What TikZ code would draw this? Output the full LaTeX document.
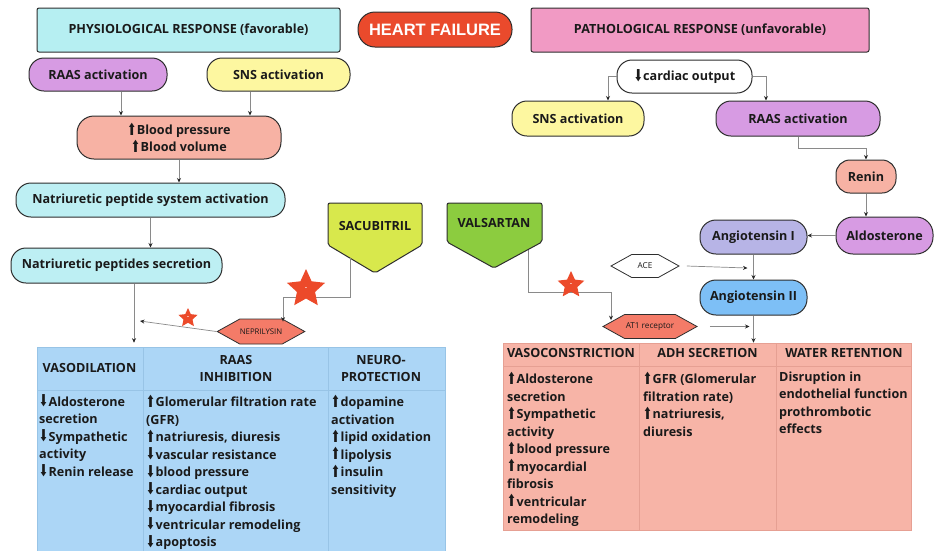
\documentclass[tikz,border=0pt]{standalone}
\usepackage{fontspec}
\setmainfont{Open Sans}
\newfontfamily\hffont{Liberation Sans}
\newfontfamily\arrowfont{DejaVu Sans}
\usetikzlibrary{shapes.geometric,shapes.symbols,arrows.meta}
\newcommand\UpA{{\arrowfont\bfseries\raisebox{-0.5pt}{\scalebox{0.85}[1.3]{⬆}}}\hspace{0.5pt}}
\newcommand\DnA{{\arrowfont\bfseries\raisebox{-0.5pt}{\scalebox{0.85}[1.3]{⬇}}}\hspace{0.5pt}}
\definecolor{bord}{HTML}{2E2E2E}
\definecolor{txt}{HTML}{1A1A1A}
\definecolor{cyanbox}{HTML}{B6EFF2}
\definecolor{cyanpill}{HTML}{BDEFF3}
\definecolor{pinkbox}{HTML}{F19AC4}
\definecolor{hfred}{HTML}{EA4A2C}
\definecolor{purp}{HTML}{D79BE3}
\definecolor{yell}{HTML}{FDF7A0}
\definecolor{salm}{HTML}{F7B2A4}
\definecolor{lav}{HTML}{B7B4E6}
\definecolor{blu}{HTML}{7DBFF6}
\definecolor{tblblue}{HTML}{ACD6F6}
\definecolor{tblblueline}{HTML}{98C4E6}
\definecolor{tblred}{HTML}{F7B4A7}
\definecolor{tblredline}{HTML}{E6A093}
\definecolor{sacc}{HTML}{D8E84C}
\definecolor{valc}{HTML}{8CCC3F}
\definecolor{hexred}{HTML}{F47B68}
\definecolor{starred}{HTML}{EC4A2A}
\definecolor{lgray}{HTML}{8A8A8A}
\begin{document}
\begin{tikzpicture}[x=1pt,y=-1pt,
  box/.style={draw=bord, line width=1pt, align=center, inner sep=2pt, text=txt,
    font=\fontsize{12.6}{17}\selectfont\bfseries},
  pill/.style={box, rounded corners=15pt},
  arr/.style={draw=lgray, line width=0.7pt, -{Stealth[length=4.5pt,width=4pt,color=black!85]}},
  hexa/.style={signal, signal to=east and west, signal pointer angle=58, draw=bord,
    line width=0.8pt, inner sep=0pt, text=txt, font=\fontsize{8.2}{9}\selectfont},
  redstar/.style={star, star points=5, star point ratio=2.1, fill=starred, inner sep=0pt,
    text=white, font=\fontsize{6}{6}\selectfont\bfseries},
  hd/.style={align=center, text=txt, font=\fontsize{12.6}{17}\selectfont\bfseries, inner sep=0pt},
  body/.style={align=left, anchor=north west, text=txt, inner sep=0pt,
    font=\fontsize{12.6}{17.5}\selectfont\bfseries}
]
\useasboundingbox (0,0) rectangle (934,550);
\fill[white] (0,0) rectangle (934,550);

% headers
\node[box, fill=cyanbox, rounded corners=2pt, minimum width=303pt, minimum height=44pt] (phys) at (188.5,30) {PHYSIOLOGICAL RESPONSE (favorable)};
\node[box, fill=hfred, rounded corners=17pt, minimum width=154pt, minimum height=35pt, text=white, font=\fontsize{16.5}{18}\selectfont\hffont\bfseries] (hf) at (435,29.5) {HEART FAILURE};
\node[box, fill=pinkbox, rounded corners=2pt, minimum width=338pt, minimum height=44pt] (patho) at (700,30) {PATHOLOGICAL RESPONSE (unfavorable)};

% left flow
\node[pill, fill=purp, minimum width=138pt, minimum height=33pt] (raasL) at (98,74.5) {RAAS activation};
\node[pill, fill=yell, minimum width=143pt, minimum height=33pt] (snsL) at (278.5,74.5) {SNS activation};
\node[pill, fill=salm, rounded corners=17pt, minimum width=204pt, minimum height=43pt] (bp) at (179,137.5) {\UpA Blood pressure\\\UpA Blood volume};
\node[pill, fill=cyanpill, minimum width=269pt, minimum height=34pt] (npsa) at (150.5,200) {Natriuretic peptide system activation};
\node[pill, fill=cyanpill, minimum width=211pt, minimum height=35pt] (nps) at (116.5,265.5) {Natriuretic peptides secretion};

% right flow
\node[pill, fill=white, minimum width=135pt, minimum height=33pt] (co) at (684.5,76.5) {\DnA cardiac output};
\node[pill, fill=yell, minimum width=132pt, minimum height=35pt] (snsR) at (578,118.5) {SNS activation};
\node[pill, fill=purp, minimum width=164pt, minimum height=35pt] (raasR) at (798,118.5) {RAAS activation};
\node[pill, fill=salm, rounded corners=14pt, minimum width=60pt, minimum height=33pt] (renin) at (866,176.5) {Renin};
\node[pill, fill=purp, rounded corners=17pt, minimum width=97pt, minimum height=37pt] (aldo) at (884.5,235.5) {Aldosterone};
\node[pill, fill=lav, rounded corners=16pt, minimum width=107pt, minimum height=34pt] (ang1) at (753.5,237) {Angiotensin I};
\node[pill, fill=blu, rounded corners=16pt, minimum width=107pt, minimum height=35pt] (ang2) at (753.5,297.5) {Angiotensin II};

% hexagons
\node[hexa, fill=hexred, minimum width=86pt, minimum height=25pt, font=\fontsize{7.8}{9}\selectfont] (nep) at (261,331.5) {NEPRILYSIN};
\node[hexa, fill=white, minimum width=68pt, minimum height=23pt] (ace) at (645,266) {ACE};
\node[hexa, fill=hexred, minimum width=94pt, minimum height=24pt] (at1) at (650,326.5) {AT1 receptor};

% drug shapes
\draw[draw=bord, line width=1pt, fill=sacc, rounded corners=2pt] (328,203) -- (422,203) -- (422,245) -- (375,273) -- (328,245) -- cycle;
\node[hd] (sac) at (375,226) {SACUBITRIL};
\draw[draw=bord, line width=1pt, fill=valc, rounded corners=2pt] (447,203) -- (542,203) -- (542,242) -- (494,268) -- (447,242) -- cycle;
\node[hd] (val) at (494,223) {VALSARTAN};
\coordinate (sacS) at (350,258);
\coordinate (valS) at (528,250);
\coordinate (nepEnd) at (140,321);

% tables
\node[draw=tblblueline, fill=tblblue, line width=0.6pt, minimum width=408pt, minimum height=206pt, inner sep=0pt] (tblL) at (241,450) {};
\draw[tblblueline, line width=0.6pt] (143,347) -- (143,553) (328,347) -- (328,553) (37,390) -- (445,390);
\node[draw=tblredline, fill=tblred, line width=0.6pt, minimum width=408pt, minimum height=187pt, inner sep=0pt] (tblR) at (707,436.5) {};
\draw[tblredline, line width=0.6pt] (639,343) -- (639,530) (776,343) -- (776,530) (503,366) -- (911,366);

% table headers
\node[hd] at (89.5,368) {VASODILATION};
\node[hd] at (236,368) {RAAS\\INHIBITION};
\node[hd] at (381,368) {NEURO-\\PROTECTION};
\node[hd] at (571,353) {VASOCONSTRICTION};
\node[hd] at (707.5,353) {ADH SECRETION};
\node[hd] at (844,353) {WATER RETENTION};

% table bodies
\node[body] at (39,394.5) {\DnA Aldosterone\\secretion\\\DnA Sympathetic\\activity\\\DnA Renin release};
\node[body] at (146,394.5) {\UpA Glomerular filtration rate\\(GFR)\\\UpA natriuresis, diuresis\\\DnA vascular resistance\\\DnA blood pressure\\\DnA cardiac output\\\DnA myocardial fibrosis\\\DnA ventricular remodeling\\\DnA apoptosis};
\node[body] at (331,394.5) {\UpA dopamine\\activation\\\UpA lipid oxidation\\\UpA lipolysis\\\UpA insulin\\sensitivity};
\node[body] at (507,371.5) {\UpA Aldosterone\\secretion\\\UpA Sympathetic\\activity\\\UpA blood pressure\\\UpA myocardial\\fibrosis\\\UpA ventricular\\remodeling};
\node[body] at (643,371.5) {\UpA GFR (Glomerular\\filtration rate)\\\UpA natriuresis,\\diuresis};
\node[body] at (779,371.5) {Disruption in\\endothelial function\\prothrombotic\\effects};

% connectors left
\draw[arr] ([xshift=23pt]raasL.south) -- ([xshift=23pt]raasL.south |- bp.north);
\draw[arr] ([xshift=-28.5pt]snsL.south) -- ([xshift=-28.5pt]snsL.south |- bp.north);
\draw[arr] (bp.south) -- (bp.south |- npsa.north);
\draw[arr] (npsa.south) -- (npsa.south |- nps.north);
\draw[arr, shorten >=4pt] ([xshift=17.5pt]nps.south) -- ([xshift=17.5pt]nps.south |- tblL.north);
\draw[arr] (nep.west) -- (nepEnd);
\draw[arr] (sacS) -- ++(0,39) -| ([xshift=22pt,yshift=-3pt]nep.north);
\draw[arr] (valS) -- ++(0,42) -| ([xshift=-39pt,yshift=-6pt]at1.north);

% connectors right
\draw[arr] (co.west) -| ([xshift=30pt]snsR.north);
\draw[arr] (co.east) -| ([xshift=-32pt]raasR.north);
\draw[arr] (raasR.south) -- ++(0,12) -| (renin.north);
\draw[arr] (renin.south) -- (renin.south |- aldo.north);
\draw[arr] (aldo.west) -- (aldo.west -| ang1.east);
\draw[arr] (ang1.south) -- (ang1.south |- ang2.north);
\draw[arr] (ang2.south) -- (ang2.south |- tblR.north);
\draw[arr] (ace.east) ++(7,0) coordinate (aceS) -- ([xshift=-6pt,yshift=-2pt]ang1.south |- ace.east);
\draw[arr] (at1.east) ++(12,0) coordinate (at1S) -- ([xshift=-4pt]ang2.south |- at1.east);

% stars
\node[redstar, minimum size=40pt] (st1) at (306,289) {-};
\node[redstar, minimum size=20pt] (st2) at (188,318) {-};
\node[redstar, minimum size=28pt] (st3) at (571,285) {-};
\end{tikzpicture}
\end{document}
